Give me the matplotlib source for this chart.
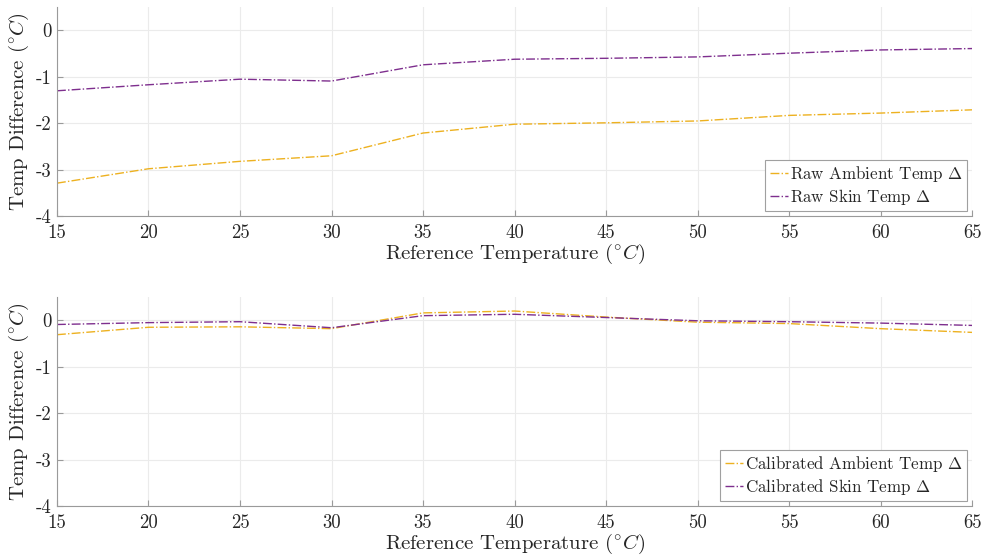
import matplotlib
matplotlib.use("Agg")
import matplotlib.pyplot as plt

plt.rcParams['font.family'] = 'serif'
plt.rcParams['font.serif'] = ['cmr10', 'DejaVu Serif']
plt.rcParams['mathtext.fontset'] = 'cm'
plt.rcParams['axes.unicode_minus'] = False

ref_temp = [15, 20, 25, 30, 35, 40, 45, 50, 55, 60, 65]
raw_ambient = [-3.29, -2.98, -2.82, -2.70, -2.21, -2.02, -1.99, -1.95, -1.83, -1.78, -1.71]
raw_skin = [-1.30, -1.17, -1.05, -1.09, -0.74, -0.62, -0.60, -0.57, -0.49, -0.42, -0.39]
cal_ambient = [-0.31, -0.15, -0.14, -0.18, 0.16, 0.20, 0.07, -0.04, -0.07, -0.18, -0.26]
cal_skin = [-0.09, -0.05, -0.03, -0.16, 0.10, 0.13, 0.06, -0.01, -0.03, -0.06, -0.11]
yticks = [-4, -3, -2, -1, 0]
ytick_labels = ['-4', '-3', '-2', '-1', '0']
xticks = [15, 20, 25, 30, 35, 40, 45, 50, 55, 60, 65]

c_amb = '#EDB120'
c_skin = '#7E2F8E'
txt = '#262626'
spine = '#9a9a9a'

fig = plt.figure(figsize=(9.82, 5.57), dpi=100)
ax1 = fig.add_axes([0.058, 0.612, 0.932, 0.375])
ax2 = fig.add_axes([0.058, 0.0916, 0.932, 0.375])

series = [
    (ax1, raw_ambient, raw_skin, 'Raw Ambient Temp $\\Delta$', 'Raw Skin Temp $\\Delta$'),
    (ax2, cal_ambient, cal_skin, 'Calibrated Ambient Temp $\\Delta$', 'Calibrated Skin Temp $\\Delta$'),
]
for ax, amb, skin, la, ls in series:
    ax.plot(ref_temp, amb, color=c_amb, linestyle='-.', lw=1.0, label=la)
    ax.plot(ref_temp, skin, color=c_skin, linestyle='-.', lw=1.0, label=ls)
    ax.set_xlim(15, 65)
    ax.set_ylim(-4, 0.5)
    ax.set_xticks(xticks)
    ax.set_yticks(yticks)
    ax.set_yticklabels(ytick_labels)
    ax.grid(True, color='#ebebeb', lw=0.8)
    ax.set_axisbelow(True)
    for s in ['top', 'right']:
        ax.spines[s].set_visible(False)
    for s in ['left', 'bottom']:
        ax.spines[s].set_color(spine)
        ax.spines[s].set_linewidth(0.8)
    ax.tick_params(direction='in', length=4, color=spine, labelcolor=txt, labelsize=13.5)
    ax.tick_params(axis='y', pad=4)
    ax.tick_params(axis='x', pad=6)
    ax.set_xlabel('Reference Temperature ($^{\\circ}C$)', fontsize=15, color=txt, labelpad=0)
    ax.set_ylabel('Temp Difference ($^{\\circ}C$)', fontsize=15, color=txt, labelpad=3)
    leg = ax.legend(loc='lower right', fontsize=12.2, frameon=True, fancybox=False,
                    edgecolor='#a0a0a0', framealpha=1, handlelength=1.1, handletextpad=0.1,
                    borderpad=0.25, labelspacing=0.15, borderaxespad=0.3)
    leg.get_frame().set_linewidth(0.8)
    for t in leg.get_texts():
        t.set_color(txt)

fig.savefig('out.png', dpi=100)
